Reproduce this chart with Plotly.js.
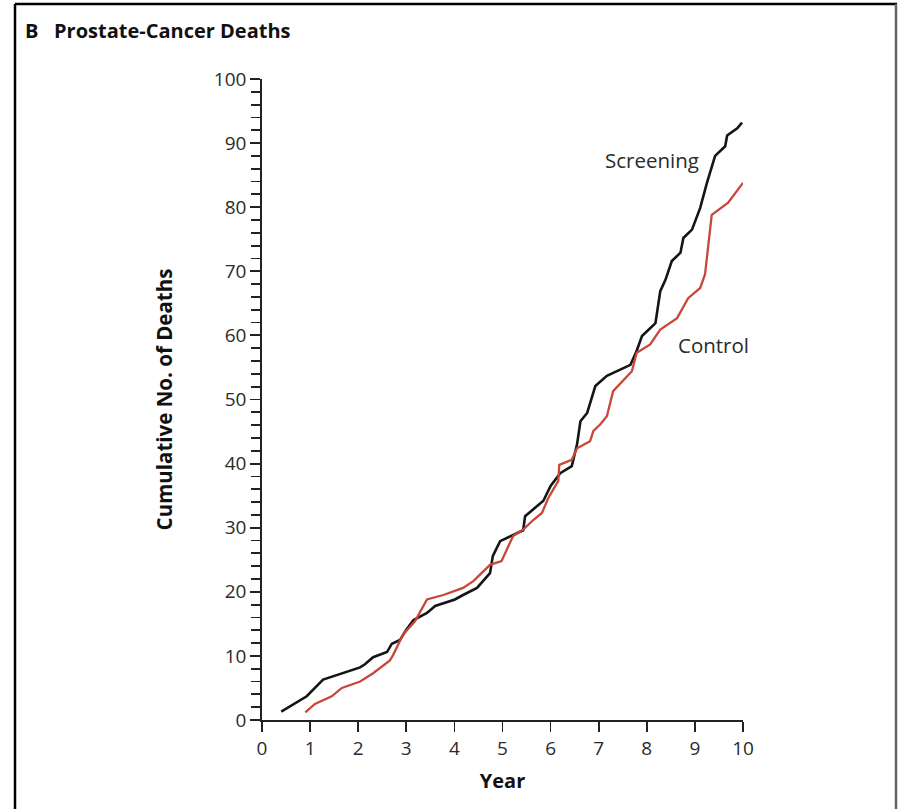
<!DOCTYPE html>
<html>
<head>
<meta charset="utf-8">
<script src="https://cdn.plot.ly/plotly-3.0.1.min.js"></script>
<style>
  html, body { margin: 0; padding: 0; background: #ffffff; }
  #chart { width: 898px; height: 809px; }
</style>
</head>
<body>
<div id="chart"></div>
<script>
// ---- Data ----
const screeningYears = [0.40, 0.93, 1.27, 1.62, 2.04, 2.14, 2.31, 2.60, 2.70, 2.87, 3.00, 3.15, 3.43, 3.60, 4.01, 4.18, 4.47, 4.74, 4.80, 4.95, 5.22, 5.43, 5.47, 5.85, 6.00, 6.20, 6.44, 6.55, 6.62, 6.76, 6.93, 7.17, 7.66, 7.79, 7.90, 8.18, 8.28, 8.39, 8.52, 8.70, 8.76, 8.94, 9.11, 9.25, 9.42, 9.63, 9.67, 9.88, 9.98];
const screeningDeaths = [1.3, 3.7, 6.3, 7.2, 8.2, 8.7, 9.8, 10.6, 11.9, 12.5, 14.1, 15.6, 16.7, 17.8, 18.8, 19.5, 20.6, 22.9, 25.6, 27.9, 28.9, 29.6, 31.8, 34.2, 36.5, 38.5, 39.6, 43.0, 46.6, 47.9, 52.1, 53.7, 55.4, 57.6, 59.9, 61.9, 66.9, 68.7, 71.6, 72.9, 75.2, 76.5, 79.9, 83.8, 88.0, 89.5, 91.2, 92.3, 93.2];

const controlYears = [0.90, 1.10, 1.45, 1.66, 2.04, 2.31, 2.66, 2.73, 2.93, 3.18, 3.43, 3.77, 4.18, 4.40, 4.74, 4.98, 5.22, 5.43, 5.64, 5.82, 5.95, 6.16, 6.18, 6.44, 6.55, 6.82, 6.89, 7.03, 7.17, 7.30, 7.69, 7.79, 8.07, 8.28, 8.63, 8.86, 9.11, 9.21, 9.35, 9.69, 10.0];
const controlDeaths = [1.2, 2.5, 3.7, 5.0, 6.0, 7.3, 9.3, 10.2, 13.3, 15.4, 18.8, 19.5, 20.6, 21.7, 24.2, 24.8, 28.7, 29.7, 31.2, 32.3, 34.6, 37.3, 39.8, 40.6, 42.4, 43.5, 45.1, 46.1, 47.4, 51.3, 54.4, 57.3, 58.6, 60.9, 62.7, 65.8, 67.4, 69.5, 78.8, 80.7, 83.8];

const seriesNames = ["Screening", "Control"];
const xTickVals = [0, 1, 2, 3, 4, 5, 6, 7, 8, 9, 10];
const yTickVals = [0, 10, 20, 30, 40, 50, 60, 70, 80, 90, 100];
const labelPositions = { Screening: [8.11, 87.4], Control: [9.38, 58.5] };

const FONT = "'Open Sans', 'Noto Sans', sans-serif";
const INK = "#2b2b2b";

const traces = [
  {
    x: screeningYears, y: screeningDeaths, name: seriesNames[0],
    type: "scatter", mode: "lines",
    line: { color: "#151515", width: 2.6 }
  },
  {
    x: controlYears, y: controlDeaths, name: seriesNames[1],
    type: "scatter", mode: "lines",
    line: { color: "#c9473a", width: 2.3 }
  }
];

const layout = {
  width: 898, height: 809,
  paper_bgcolor: "#ffffff", plot_bgcolor: "#ffffff",
  margin: { l: 262, r: 155, t: 79, b: 89, pad: 0 },
  showlegend: false,
  font: { family: FONT, color: INK },
  title: {
    text: "B&nbsp;&nbsp;&nbsp;Prostate-Cancer Deaths",
    font: { family: FONT, size: 20, color: "#111", weight: 700 },
    xref: "container", yref: "container",
    x: 25 / 898, xanchor: "left",
    y: 1 - 31 / 809, yanchor: "middle"
  },
  xaxis: {
    range: [0, 10],
    tickvals: xTickVals,
    ticktext: xTickVals.map(String),
    showgrid: false, zeroline: false,
    showline: true, linecolor: "#222", linewidth: 1.8,
    ticks: "outside", ticklen: 10, tickwidth: 1.8, tickcolor: "#222",
    tickfont: { family: FONT, size: 19, color: INK },
    title: { text: "Year", font: { family: FONT, size: 20, color: "#111", weight: 700 }, standoff: 14 },
    fixedrange: true
  },
  yaxis: {
    range: [0, 100],
    tickvals: yTickVals,
    ticktext: yTickVals.map(String),
    showgrid: false, zeroline: false,
    showline: true, linecolor: "#222", linewidth: 1.8,
    ticks: "outside", ticklen: 10, tickwidth: 1.8, tickcolor: "#222",
    minor: { dtick: 2, ticks: "outside", ticklen: 9, tickwidth: 1.8, tickcolor: "#222", showgrid: false },
    tickfont: { family: FONT, size: 19, color: INK },
    title: { text: "Cumulative No. of Deaths", font: { family: FONT, size: 20.5, color: "#111", weight: 700 }, standoff: 36 },
    fixedrange: true
  },
  annotations: seriesNames.map(n => ({
    x: labelPositions[n][0], y: labelPositions[n][1], xref: "x", yref: "y",
    text: n, showarrow: false, xanchor: "center", yanchor: "middle",
    font: { family: FONT, size: 20.5, color: INK }
  })),
  shapes: [
    { type: "line", xref: "paper", yref: "paper", x0: (15 - 262) / 481, x1: (15 - 262) / 481, y0: (720 - 4) / 641, y1: (720 - 830) / 641, line: { color: "#000", width: 2.5 } },
    { type: "line", xref: "paper", yref: "paper", x0: (15 - 262) / 481, x1: (897 - 262) / 481, y0: (720 - 4) / 641, y1: (720 - 4) / 641, line: { color: "#000", width: 2.5 } },
    { type: "line", xref: "paper", yref: "paper", x0: (896 - 262) / 481, x1: (896 - 262) / 481, y0: (720 - 4) / 641, y1: (720 - 830) / 641, line: { color: "#666", width: 2.5 } }
  ]
};

Plotly.newPlot("chart", traces, layout, { displayModeBar: false, staticPlot: true });
</script>
</body>
</html>
